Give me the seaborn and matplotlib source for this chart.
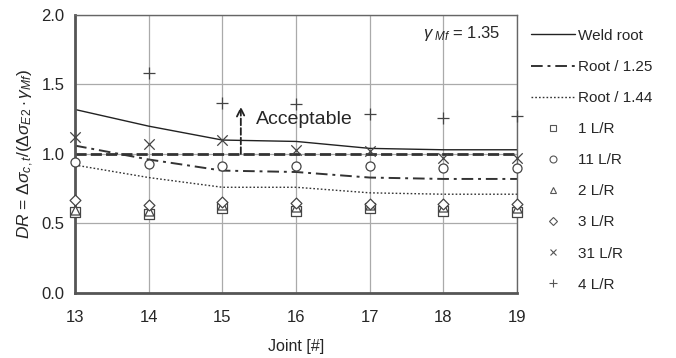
import matplotlib
matplotlib.use("Agg")
import matplotlib.pyplot as plt
from matplotlib.lines import Line2D
import seaborn as sns
import numpy as np
import pandas as pd

joints = [13, 14, 15, 16, 17, 18, 19]

# design ratio curves
weld_root = [1.32, 1.20, 1.10, 1.09, 1.04, 1.03, 1.03]
root_125 = [1.06, 0.96, 0.88, 0.87, 0.83, 0.82, 0.82]
root_144 = [0.92, 0.83, 0.76, 0.76, 0.72, 0.71, 0.71]

# measured points per gauge
g1 = [0.58, 0.57, 0.61, 0.59, 0.61, 0.59, 0.58]
g11 = [0.94, 0.93, 0.91, 0.91, 0.91, 0.90, 0.90]
g2 = [0.60, 0.59, 0.63, 0.62, 0.63, 0.62, 0.61]
g3 = [0.67, 0.63, 0.655, 0.65, 0.64, 0.64, 0.64]
g31 = [1.12, 1.07, 1.10, 1.03, 1.02, 0.97, 0.97]
g4 = [np.nan, 1.58, 1.37, 1.36, 1.29, 1.26, 1.27]

gamma_text = r"$\gamma_{\ Mf}$ = 1.35"

sns.set_style("white")
plt.rcParams['font.family'] = ['Liberation Sans', 'DejaVu Sans']
plt.rcParams['mathtext.fontset'] = 'custom'
plt.rcParams['mathtext.rm'] = 'Liberation Sans'
plt.rcParams['mathtext.it'] = 'Liberation Sans:italic'

fig = plt.figure(figsize=(6.76, 3.58), dpi=100)
ax = fig.add_axes([0.111, 0.182, 0.654, 0.776])

lines = pd.DataFrame({"joint": joints * 3,
                      "dr": weld_root + root_125 + root_144,
                      "curve": ["Weld root"] * 7 + ["Root / 1.25"] * 7 + ["Root / 1.44"] * 7})

styles = {"Weld root": ("-", 1.0, "#222222"),
          "Root / 1.25": ((0, (6, 2.5, 1.5, 2.5)), 1.4, "#333333"),
          "Root / 1.44": ((0, (1.2, 1.5)), 1.0, "#333333")}
handles = []
for name, (ls, lw, c) in styles.items():
    sub = lines[lines.curve == name]
    sns.lineplot(data=sub, x="joint", y="dr", ax=ax, color=c, lw=lw, linestyle=ls)
    handles.append(Line2D([], [], color=c, lw=lw, linestyle=ls, label=name))

ax.axhline(1.0, color="#333333", lw=2.0, linestyle=(0, (4, 1.5)), zorder=2)

points = {"1 L/R": (g1, "s", 6.5), "11 L/R": (g11, "o", 6.5), "2 L/R": (g2, "^", 6.5),
          "3 L/R": (g3, "D", 5.5), "31 L/R": (g31, "x", 7.5), "4 L/R": (g4, "+", 8.5)}
for name, (vals, m, s) in points.items():
    df = pd.DataFrame({"joint": joints, "dr": vals})
    if m in ("x", "+"):
        sns.scatterplot(data=df, x="joint", y="dr", ax=ax, marker=m, s=s ** 2,
                        color="#444444", linewidth=0.9, zorder=4, clip_on=False)
        handles.append(Line2D([], [], linestyle="none", marker=m, markersize=s - 2.5,
                              color="#555555", markeredgewidth=0.8, label=name))
    else:
        sns.scatterplot(data=df, x="joint", y="dr", ax=ax, marker=m, s=s ** 2,
                        facecolor="white", edgecolor="#444444", linewidth=0.9, zorder=4,
                        clip_on=False)
        handles.append(Line2D([], [], linestyle="none", marker=m, markersize=s - 1.5,
                              markerfacecolor="white", markeredgecolor="#555555",
                              markeredgewidth=0.8, label=name))

ax.annotate("", xy=(15.25, 1.34), xytext=(15.25, 1.0),
            arrowprops=dict(arrowstyle="->", linestyle="--", lw=1.3, color="#222222",
                            mutation_scale=14, shrinkA=0, shrinkB=0))
ax.text(15.45, 1.245, "Acceptable", fontsize=14, ha="left", va="center")
ax.text(18.78, 1.87, gamma_text, fontsize=12, ha="right", va="center")

ax.set_xlim(13, 19)
ax.set_ylim(0, 2.0)
ax.set_xticks(joints)
ax.set_yticks([0, 0.5, 1.0, 1.5, 2.0])
ax.set_yticklabels(["0.0", "0.5", "1.0", "1.5", "2.0"])
ax.grid(True, color="#aaaaaa", lw=0.9)
ax.set_axisbelow(True)
for side in ["top", "right"]:
    ax.spines[side].set_color("#666666")
    ax.spines[side].set_linewidth(1.0)
for side in ["left", "bottom"]:
    ax.spines[side].set_color("#555555")
    ax.spines[side].set_linewidth(2.0)
ax.tick_params(axis="both", labelsize=12, length=5, width=1.2, color="#555555",
               direction="inout")
ax.tick_params(axis="x", pad=10)
ax.tick_params(axis="y", pad=5)
ax.set_xlabel("Joint [#]", fontsize=11.5)
ax.xaxis.set_label_coords(0.5, -0.165)
ax.set_ylabel(r"$DR$ = $\Delta\sigma_{c,t}/(\Delta\sigma_{E2}\cdot\gamma_{Mf})$", fontsize=12.5)

ax.legend(handles=handles, loc="upper left", bbox_to_anchor=(1.0, 1.0), frameon=False,
          fontsize=11, handlelength=2.9, handletextpad=0.2, labelspacing=1.12)

fig.savefig("out.png", dpi=100)
